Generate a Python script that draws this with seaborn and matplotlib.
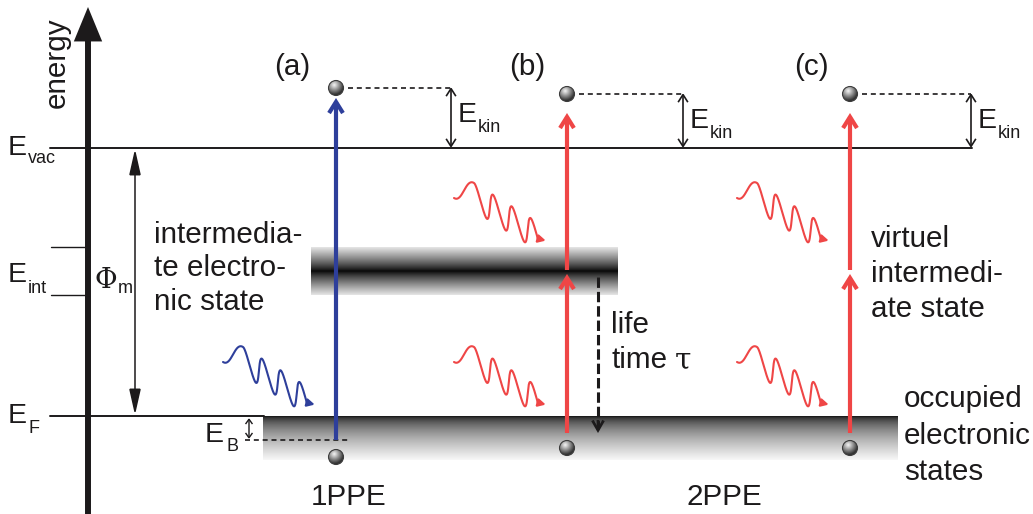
import numpy as np
import matplotlib
matplotlib.use("Agg")
import matplotlib.pyplot as plt
from matplotlib.patches import FancyArrowPatch, Circle
import seaborn as sns

# ---------------- diagram data ----------------
# energy levels (vertical position on the energy axis, screen units, top = high energy)
E_vac = 148
E_int = 271
E_int_half = 24
E_F = 416
E_B_level = 440
level_sub = ["vac", "int", "F"]

panel_labels = ["(a)", "(b)", "(c)"]
panel_x = [336, 567, 850]
panel_label_x = [292, 527, 811]
final_state_y = [88, 94, 94]       # photoemitted electron
initial_state_y = [457, 448, 448]  # electron in occupied states
photon_color = ["#2e3f9b", "#ef4646", "#ef4646"]
process_labels = ["1PPE", "2PPE"]
process_x = [349, 724]

text_intermediate = ["intermedia-", "te electro-", "nic state"]
text_virtual = ["virtuel", "intermedi-", "ate state"]
text_occupied = ["occupied", "electronic", "states"]
text_lifetime = ["life", "time"]

# ---------------- setup ----------------
sns.set_theme(style="white")
FONT = ["Liberation Sans", "DejaVu Sans"]
plt.rcParams["font.family"] = FONT
INK = "#1c1a1b"
FS = 21.3
FSUB = 13

fig = plt.figure(figsize=(10.33, 5.14), dpi=100)
ax = fig.add_axes([0, 0, 1, 1])


def txt(x, y, s, size=FS, ha="left", family=FONT, **kw):
    ax.text(x, y, s, fontsize=size, ha=ha, va="baseline", family=family,
            color=INK, zorder=10, **kw)


def arrow(p0, p1, style, lw, color=INK, z=5):
    a = FancyArrowPatch(p0, p1, arrowstyle=style, mutation_scale=1, lw=lw,
                        color=color, shrinkA=0, shrinkB=0, zorder=z,
                        joinstyle="miter", capstyle="butt")
    ax.add_patch(a)


def elabel(x, y, sub, dx=20, dy=9):
    txt(x, y, "E", 20.5)
    txt(x + dx, y + dy, sub, FSUB)


def sphere(x, y, r=7.5):
    n = 80
    u = np.linspace(-1, 1, n)
    U, V = np.meshgrid(u, u)
    d = np.hypot(U + 0.3, V + 0.35)
    img = np.clip(0.97 - 0.6 * d, 0.2, 1)
    im = ax.imshow(img, cmap="gray", vmin=0, vmax=1, origin="upper",
                   extent=(x - r, x + r, y + r, y - r), aspect="auto",
                   interpolation="bilinear", zorder=8)
    c = Circle((x, y), r, fc="none", ec="#3c3c3c", lw=0.8, zorder=9)
    ax.add_patch(c)
    im.set_clip_path(c)


def photon(xs, ys, color):
    v, B, s, A = 3.0, 1.8, 1.86, 15.0
    px, py = xs + 20, ys - 15
    v1 = (20 + 2 * B) / np.pi
    s1 = (2 * A - 15) / np.pi
    t1 = np.linspace(-np.pi / 2, np.pi / 2, 60)
    x1 = px + v1 * (t1 - np.pi / 2) - B * (np.sin(t1) - 1)
    y1 = py + s1 * (t1 - np.pi / 2) - A * (np.sin(t1) - 1)
    t2 = np.linspace(np.pi / 2, 7.05 * np.pi, 400)
    x2 = px + v * (t2 - np.pi / 2) - B * (np.sin(t2) - 1)
    y2 = py + s * (t2 - np.pi / 2) - A * (np.sin(t2) - 1)
    xx = np.concatenate([x1, x2[1:]])
    yy = np.concatenate([y1, y2[1:]])
    sns.lineplot(x=xx, y=yy, sort=False, estimator=None, ax=ax,
                 color=color, lw=1.5, zorder=6)
    arrow((xx[-1], yy[-1]), (xx[-1] + 8, yy[-1] + 2),
          "-|>,head_length=5,head_width=2.6", 1.2, color, z=6)


# ---------------- energy axis ----------------
arrow((88, 520), (88, 7), "-|>,head_length=17,head_width=7", 4.3)
ax.text(65, 63, "energy", fontsize=FS, rotation=90, rotation_mode="anchor",
        ha="center", va="baseline", color=INK, family=FONT)

# levels
ax.plot([50, 972], [E_vac, E_vac], color=INK, lw=1.4, zorder=4)
ax.plot([50, 264], [E_F, E_F], color=INK, lw=1.4, zorder=4)
ax.plot([51, 88], [E_int - E_int_half, E_int - E_int_half], color=INK, lw=1.0)
ax.plot([51, 88], [E_int + E_int_half, E_int + E_int_half], color=INK, lw=1.0)
elabel(8, E_vac + 7, level_sub[0], dy=8)
elabel(8, E_int + 11, level_sub[1], dy=11)
elabel(8, E_F + 7, level_sub[2], dx=21, dy=10)

# work function
arrow((135, E_vac + 1), (135, E_F - 1), "<|-|>,head_length=16,head_width=3.6", 1.1)
txt(94, 288, "Φ", 20, family=["DejaVu Serif"])
txt(118, 293, "m", FSUB)

# bands
yy = np.linspace(-1, 1, 240)
prof = 0.03 + 0.87 * np.abs(yy) ** 0.85
ax.imshow(prof[:, None], cmap="gray", vmin=0, vmax=1, origin="upper",
          extent=(311, 618, E_int + E_int_half, E_int - E_int_half),
          aspect="auto", interpolation="bilinear", zorder=1)
f = np.linspace(0, 1, 240)
prof2 = 0.05 + 0.92 * f ** 0.55
ax.imshow(prof2[:, None], cmap="gray", vmin=0, vmax=1, origin="upper",
          extent=(263, 898, E_F + 44, E_F), aspect="auto",
          interpolation="bilinear", zorder=1)

# E_B
ax.plot([245, 350], [E_B_level, E_B_level], color=INK, lw=1.2,
        ls=(0, (3, 2.3)), zorder=4)
arrow((249, E_F + 2), (249, E_B_level - 1), "<->,head_length=3.5,head_width=2.5", 1.0)
elabel(205, E_B_level + 2, "B", dx=21, dy=9)

# panels
for i, (lab, lx, x) in enumerate(zip(panel_labels, panel_label_x, panel_x)):
    txt(lx, 75, lab, FS, ha="center")
    sphere(x, final_state_y[i])
    sphere(x, initial_state_y[i])
    # kinetic energy
    xk = [451, 683, 971][i]
    ax.plot([x + 12, xk], [final_state_y[i], final_state_y[i]], color=INK,
            lw=1.2, ls=(0, (3, 2.3)), zorder=4)
    arrow((xk, final_state_y[i] - 1), (xk, E_vac),
          "<->,head_length=5.5,head_width=3.5", 1.2)
    elabel(xk + 7, final_state_y[i] + 34, "kin", dx=20, dy=10)
    # photons
    photon(x - 113, 362, photon_color[i])
    if i > 0:
        photon(x - 113, 198, photon_color[i])

# excitation arrows
arrow((panel_x[0], E_B_level), (panel_x[0], 98),
      "->,head_length=8,head_width=5", 3.0, photon_color[0])
for x in panel_x[1:]:
    arrow((x, 433), (x, 274), "->,head_length=8,head_width=5", 3.0, photon_color[1])
    arrow((x, 270), (x, 113), "->,head_length=8,head_width=5", 3.0, photon_color[1])

# lifetime
ax.plot([598, 598], [277, 428], color=INK, lw=2.2, ls=(0, (3.4, 1.3)), zorder=5)
arrow((598, 420), (598, 433), "->,head_length=7,head_width=4", 2.0)
txt(611, 333, text_lifetime[0])
txt(611, 368, text_lifetime[1])
txt(675, 368, "τ", FS, family=["DejaVu Serif"])

# descriptive texts
for k, s in enumerate(text_intermediate):
    txt(154, 243 + 33.5 * k, s)
for k, s in enumerate(text_virtual):
    txt(871, 247 + 35 * k, s)
for k, s in enumerate(text_occupied):
    txt(904, 407 + 36.5 * k, s)
for s, x in zip(process_labels, process_x):
    txt(x, 505, s, ha="center")

ax.set_xlim(0, 1033)
ax.set_ylim(514, 0)
ax.set_aspect("auto")
ax.axis("off")
fig.savefig("out.png", dpi=100)
